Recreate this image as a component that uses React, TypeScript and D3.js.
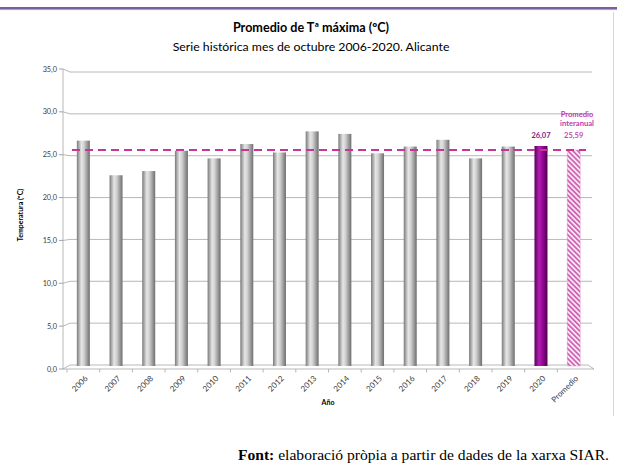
import React from "react";
import * as d3 from "d3";

const categories = ["2006","2007","2008","2009","2010","2011","2012","2013","2014","2015","2016","2017","2018","2019","2020","Promedio"];
const values = [26.7,22.6,23.1,25.5,24.6,26.3,25.3,27.8,27.5,25.2,26.0,26.8,24.6,26.0,26.07,25.59];
const yTicks = [0,5,10,15,20,25,30,35];
const averageValue = 25.59;
const highlightYear = "2020";
const averageLabel = "Promedio";

const fmt = (v: number) => v.toFixed(1).replace(".", ",");
const fmt2 = (v: number) => v.toFixed(2).replace(".", ",");

export default function App() {
  const W = 617, H = 464;
  const x = d3.scaleBand<string>().domain(categories).range([67, 590]).paddingInner(0.6).paddingOuter(0.3);
  const yBack = d3.scaleLinear().domain([0, 35]).range([365, 72]);
  const yFront = d3.scaleLinear().domain([0, 35]).range([369, 69]);
  const yBar = d3.scaleLinear().domain([0, 35]).range([366, 366 - 35 * 8.44]);
  const bw = 13;
  const step = x.step();
  const axisX = 63, backX = 70, rightX = 592;
  const font = "Lato, 'Open Sans', sans-serif";

  return (
    <svg width={W} height={H} style={{ position: "absolute", left: 0, top: 0, background: "#fff" }}>
      <defs>
        <linearGradient id="gray" x1="0" x2="1" y1="0" y2="0">
          <stop offset="0" stopColor="#7a7a7a" />
          <stop offset="0.35" stopColor="#e6e6e6" />
          <stop offset="0.55" stopColor="#d0d0d0" />
          <stop offset="1" stopColor="#6e6e6e" />
        </linearGradient>
        <linearGradient id="purple" x1="0" x2="1" y1="0" y2="0">
          <stop offset="0" stopColor="#5a005a" />
          <stop offset="0.35" stopColor="#b020b0" />
          <stop offset="0.6" stopColor="#9a0a9a" />
          <stop offset="1" stopColor="#4e004e" />
        </linearGradient>
        <pattern id="hatch" width="3.5" height="3.5" patternUnits="userSpaceOnUse" patternTransform="rotate(-45)">
          <rect width="3.5" height="3.5" fill="#fbeaf6" />
          <rect width="1.8" height="3.5" fill="#d064b4" />
        </pattern>
      </defs>

      {/* top purple rule */}
      <line x1={0} x2={W} y1={8} y2={8} stroke="#4f2a80" strokeWidth={1.6} />
      <line x1={0} x2={W} y1={9.6} y2={9.6} stroke="#a994c8" strokeWidth={1} />
      {/* right frame */}
      <line x1={613.5} x2={613.5} y1={12} y2={416} stroke="#d6d6d6" strokeWidth={1} />

      {/* titles */}
      <text x={311} y={32} textAnchor="middle" fontFamily={font} fontWeight="bold" fontSize={12.6} fill="#000">Promedio de Tª máxima (ºC)</text>
      <text x={311} y={51} textAnchor="middle" fontFamily={font} fontSize={12.3} fill="#000">Serie histórica mes de octubre 2006-2020. Alicante</text>

      {/* gridlines & y axis */}
      {yTicks.map((t) => (
        <g key={t}>
          {t > 0 && (
            <>
              <line x1={axisX} y1={yFront(t)} x2={backX} y2={yBack(t)} stroke="#a6a6a6" strokeWidth={0.8} />
              <line x1={backX} y1={yBack(t)} x2={rightX} y2={yBack(t)} stroke="#a6a6a6" strokeWidth={0.8} />
            </>
          )}
          <line x1={59} y1={yFront(t)} x2={axisX} y2={yFront(t)} stroke="#8c8c8c" strokeWidth={0.8} />
          <text x={57} y={yFront(t) + 2.5} textAnchor="end" fontFamily={font} fontSize={7.3} fill="#404040">{fmt(t)}</text>
        </g>
      ))}
      <line x1={axisX} y1={yFront(35)} x2={axisX} y2={yFront(0)} stroke="#a6a6a6" strokeWidth={0.8} />
      {/* floor */}
      <line x1={backX} y1={yBack(0)} x2={588} y2={yBack(0)} stroke="#a6a6a6" strokeWidth={0.8} />
      <line x1={axisX} y1={yFront(0)} x2={594} y2={yFront(0)} stroke="#a6a6a6" strokeWidth={0.8} />
      <line x1={axisX} y1={yFront(0)} x2={backX} y2={yBack(0)} stroke="#a6a6a6" strokeWidth={0.8} />
      <line x1={588} y1={yBack(0)} x2={594} y2={yFront(0)} stroke="#a6a6a6" strokeWidth={0.8} />
      {categories.map((c, i) => (
        <line key={"t" + c} x1={67 + step * i} x2={67 + step * i} y1={yFront(0)} y2={yFront(0) + 3.5} stroke="#a6a6a6" strokeWidth={0.8} />
      ))}

      {/* bars */}
      {categories.map((c, i) => {
        const cx = (x(c) as number) + x.bandwidth() / 2;
        const v = values[i];
        const fill = c === highlightYear ? "url(#purple)" : c === averageLabel ? "url(#hatch)" : "url(#gray)";
        return (
          <g key={c}>
            <rect x={cx - bw / 2} y={yBar(v)} width={bw} height={yBar(0) - yBar(v)} fill={fill}
              stroke={c === averageLabel ? "#d9a0cc" : "none"} strokeWidth={0.5} />
            <text x={cx + 5} y={379} transform={`rotate(-45 ${cx + 5} 379)`} textAnchor="end" fontFamily={font} fontSize={8} fill="#404040">{c}</text>
          </g>
        );
      })}

      {/* average dashed line */}
      <line x1={72} x2={586} y1={yBar(averageValue)} y2={yBar(averageValue)} stroke="#cc3399" strokeWidth={2} strokeDasharray="8,5" />

      {/* value labels */}
      {(() => {
        const cx20 = (x(highlightYear) as number) + x.bandwidth() / 2;
        const cxAv = (x(averageLabel) as number) + x.bandwidth() / 2;
        return (
          <>
            <text x={cx20} y={137.5} textAnchor="middle" fontFamily={font} fontWeight="bold" fontSize={7.5} fill="#7b1f86">{fmt2(values[14])}</text>
            <text x={cxAv} y={137.5} textAnchor="middle" fontFamily={font} fontWeight="bold" fontSize={7.5} fill="#c24aa8">{fmt2(averageValue)}</text>
            <text x={577} y={117} textAnchor="middle" fontFamily={font} fontWeight="bold" fontSize={7.6} fill="#c03ab0">Promedio</text>
            <text x={577} y={125.5} textAnchor="middle" fontFamily={font} fontWeight="bold" fontSize={7.6} fill="#c03ab0">interanual</text>
          </>
        );
      })()}

      {/* axis titles */}
      <text x={328} y={404.5} textAnchor="middle" fontFamily={font} fontWeight="bold" fontSize={7} fill="#000">Año</text>
      <text transform="translate(23 215) rotate(-90)" textAnchor="middle" fontFamily={font} fontWeight="bold" fontSize={7} fill="#000">Temperatura (ºC)</text>

      {/* footer */}
      <text x={609} y={460} textAnchor="end" fontFamily="'Liberation Serif', 'Times New Roman', serif" fontSize={15.6} fill="#000">
        <tspan fontWeight="bold">Font:</tspan> elaboració pròpia a partir de dades de la xarxa SIAR.
      </text>
    </svg>
  );
}
